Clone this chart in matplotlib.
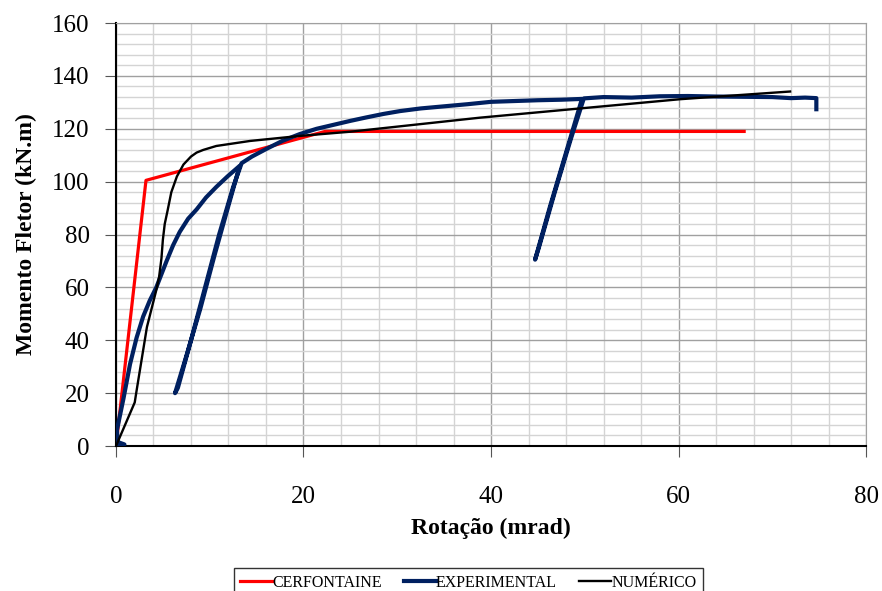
import matplotlib
matplotlib.use('Agg')
import matplotlib.pyplot as plt
from matplotlib.ticker import MultipleLocator

plt.rcParams['font.family'] = ['Liberation Serif', 'DejaVu Serif']

# CERFONTAINE (modelo bilinear)
cerf_x = [0, 3.2, 22.3, 67.0]
cerf_y = [0, 100.5, 119.0, 119.0]

# EXPERIMENTAL
exp_x = [0, 0.9, 0.2, 0.1, 0.8, 1.5, 2.2, 2.9, 3.6, 4.3, 5.4, 6.1, 6.8, 7.7, 8.6, 9.6, 10.7, 11.9, 13.2,
         12.0, 10.5, 9.0, 7.5, 6.3,
         6.6, 8.0, 9.5, 11.0, 12.5, 13.4,
         14.5, 16.1, 17.8, 19.6, 21.4, 23.2, 25.0, 26.7, 28.5, 30.3, 32.5, 35.0, 37.5, 40.0, 42.5, 45.0, 47.5, 49.7,
         47.5, 46.3, 44.7,
         45.1, 46.8, 48.5, 49.9,
         52.0, 55.0, 58.0, 61.0, 64.0, 67.0, 70.0, 72.0, 73.5, 74.7, 74.7]
exp_y = [0, 0.6, 1.5, 6, 18, 31, 41, 49, 55, 60, 70, 76, 81, 86, 89.5, 94, 98, 102, 106,
         91, 72, 52, 34, 20,
         22, 40, 60, 80, 98, 107,
         109.5, 112.5, 115.5, 118, 120, 121.5, 123, 124.3, 125.6, 126.7, 127.7, 128.5, 129.3, 130.2, 130.5, 130.8, 131, 131.3,
         105, 90.7, 70.5,
         75, 96, 116, 131.5,
         132, 131.8, 132.3, 132.4, 132.2, 132.1, 132, 131.6, 131.8, 131.6, 127.4]

# NUMÉRICO
num_x = [0, 2.0, 2.2, 3.3, 4.3, 4.6, 4.85, 5.0, 5.2, 5.5, 5.9, 6.5, 7.2, 8.0, 8.6, 9.3, 10.7, 14.3, 19.6, 25.0, 38.8, 49.5, 60.2, 71.9]
num_y = [0, 16.5, 21, 45, 59, 64, 71, 78, 84, 89, 96, 102, 106.5, 109.5, 111, 112, 113.5, 115.4, 117.3, 118.9, 124.2, 127.7, 131.2, 134.1]

fig = plt.figure(figsize=(8.82, 5.91), dpi=100)
ax = fig.add_axes([0.1315, 0.2453, 0.8504, 0.7157])

ax.plot(cerf_x, cerf_y, color='#FF0000', lw=2.3, label='CERFONTAINE', zorder=3)
ax.plot(exp_x, exp_y, color='#002060', lw=3.0, label='EXPERIMENTAL', zorder=4, solid_joinstyle='round')
ax.plot(num_x, num_y, color='black', lw=1.7, label='NUMÉRICO', zorder=5)

ax.set_xlim(0, 80)
ax.set_ylim(0, 160)
ax.xaxis.set_major_locator(MultipleLocator(20))
ax.yaxis.set_major_locator(MultipleLocator(20))
ax.xaxis.set_minor_locator(MultipleLocator(4))
ax.yaxis.set_minor_locator(MultipleLocator(4))
ax.grid(which='minor', color='#D4D4D4', lw=1.0, zorder=0)
ax.grid(which='major', color='#A0A0A0', lw=1.0, zorder=0)
ax.set_axisbelow(True)

for s in ['top', 'right']:
    ax.spines[s].set_color('#A0A0A0')
ax.spines['left'].set_color('black')
ax.spines['bottom'].set_color('black')
ax.spines['left'].set_linewidth(1.5)
ax.spines['bottom'].set_linewidth(1.5)

ax.tick_params(which='minor', length=0)
ax.tick_params(axis='y', which='major', direction='out', length=8, color='#555555', pad=11, labelsize=18)
ax.tick_params(axis='x', which='major', direction='out', length=8, color='#555555', pad=21, labelsize=18)

ax.set_xlabel('Rotação (mrad)', fontsize=17, fontweight='bold', labelpad=7)
ax.set_ylabel('Momento Fletor (kN.m)', fontsize=17, fontweight='bold', labelpad=11)

leg = fig.legend(loc='upper center', bbox_to_anchor=(0.531, 0.0385), ncol=3, fontsize=11.5,
                 frameon=True, fancybox=False, edgecolor='#333333', framealpha=1,
                 handlelength=2.0, handletextpad=0.0, columnspacing=1.4,
                 borderpad=0.4, borderaxespad=0)
leg.get_frame().set_linewidth(1.0)

fig.savefig('out.png', dpi=100)
